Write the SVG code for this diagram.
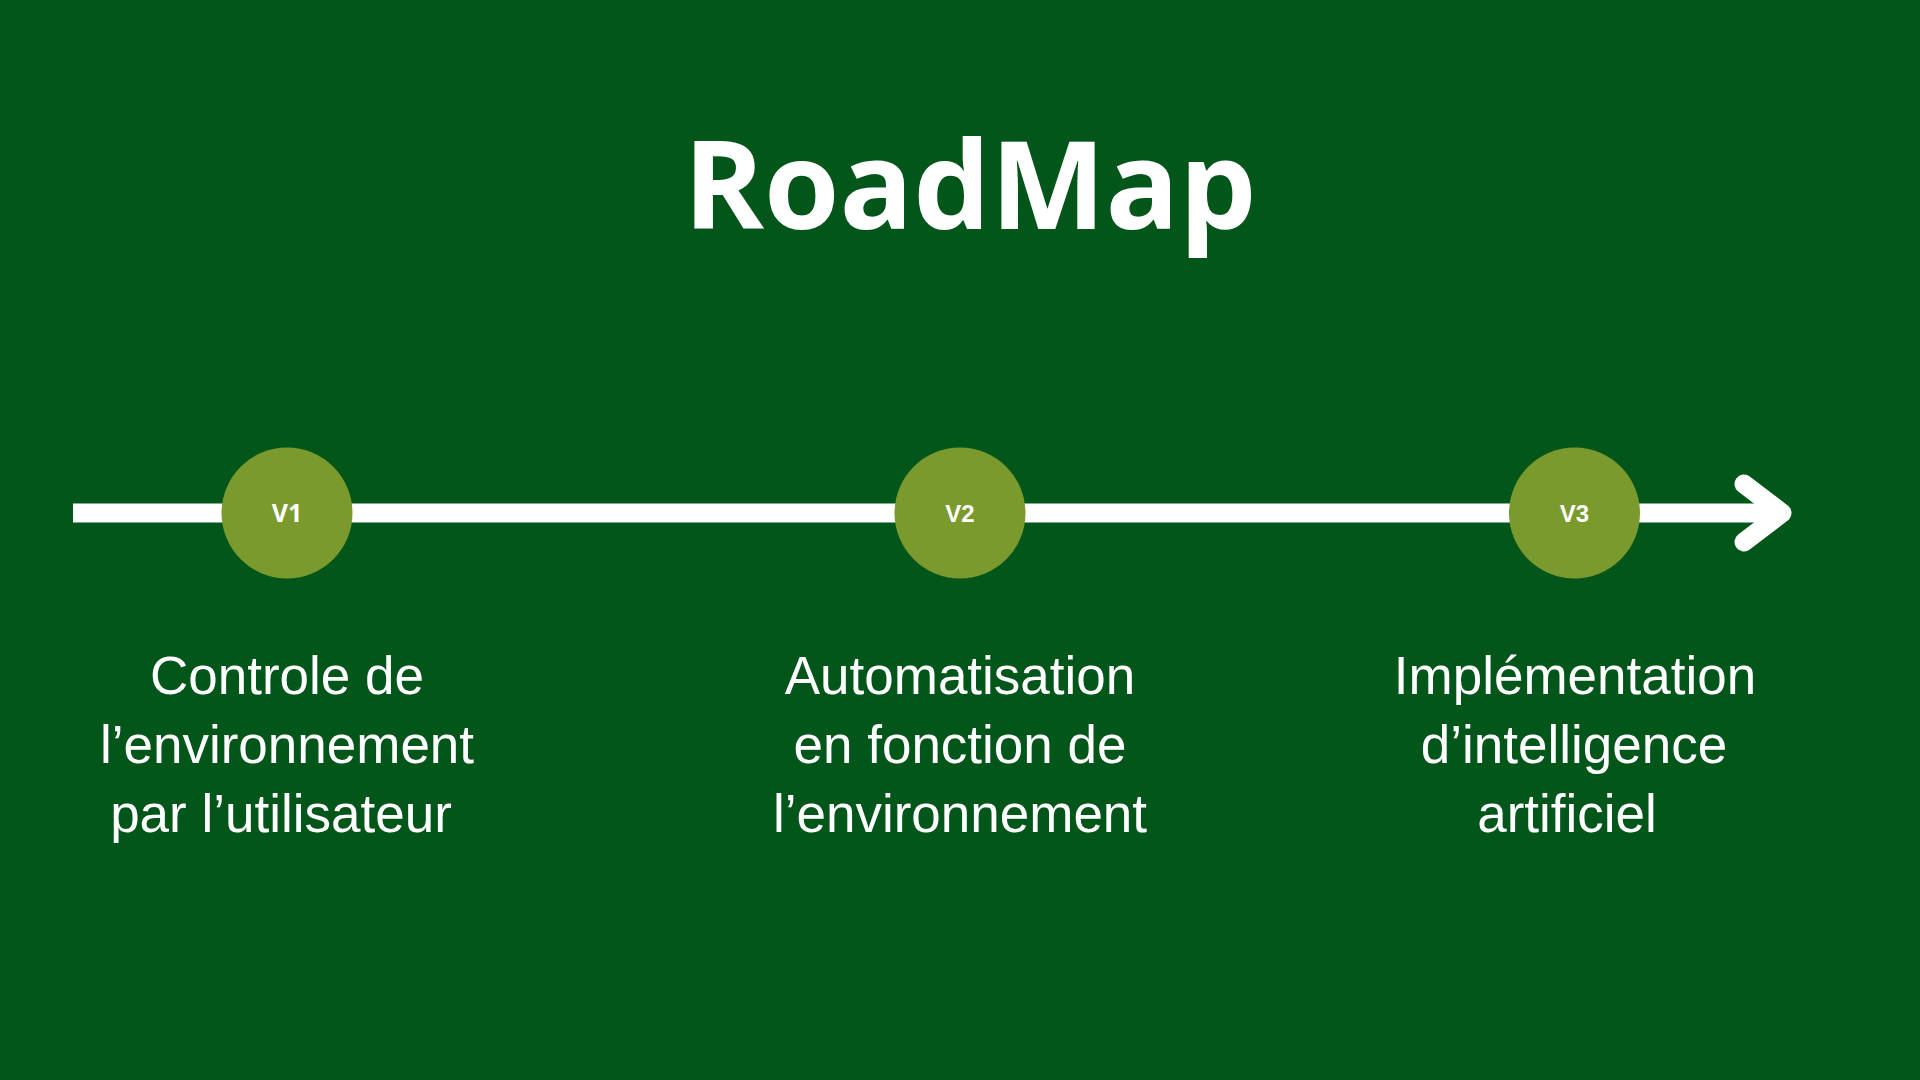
<svg xmlns="http://www.w3.org/2000/svg" width="1920" height="1080" viewBox="0 0 1920 1080">
  <style>
    .title { font-family: "Open Sans", "DejaVu Sans", sans-serif; font-weight: 700; font-size: 122px; fill: #ffffff; }
    .node { fill: #7b9a2e; }
    .vlab { font-family: "Liberation Sans", Arial, sans-serif; font-weight: 700; font-size: 24px; fill: #ffffff; text-anchor: middle; }
    .vlab1 { font-family: "Open Sans", "Liberation Sans", sans-serif; font-weight: 700; font-size: 25px; fill: #ffffff; text-anchor: middle; }
    .desc { font-family: "Liberation Sans", Arial, sans-serif; font-size: 53px; fill: #ffffff; text-anchor: middle; }
    .axis { stroke: #ffffff; stroke-width: 19; fill: none; }
  </style>
  <rect x="0" y="0" width="1920" height="1080" fill="#03561a"/>
  <text class="title" x="970" y="229" text-anchor="middle">RoadMap</text>

  <g id="connectors">
    <line class="axis" x1="73" y1="513" x2="1782" y2="513"/>
    <polyline class="axis" points="1744,484 1782,513 1744,542" stroke-linecap="round" stroke-linejoin="round"/>
  </g>

  <g id="v1">
    <circle class="node" cx="287" cy="513" r="65.5"/>
    <text class="vlab1" x="287" y="522">V1</text>
    <text class="desc" x="287" y="694">Controle de</text>
    <text class="desc" x="287" y="763">l’environnement</text>
    <text class="desc" x="281" y="832">par l’utilisateur</text>
  </g>

  <g id="v2">
    <circle class="node" cx="960" cy="513" r="65.5"/>
    <text class="vlab" x="960" y="522">V2</text>
    <text class="desc" x="960" y="694">Automatisation</text>
    <text class="desc" x="960" y="763">en fonction de</text>
    <text class="desc" x="960" y="832">l’environnement</text>
  </g>

  <g id="v3">
    <circle class="node" cx="1574.5" cy="513" r="65.5"/>
    <text class="vlab" x="1574.5" y="522">V3</text>
    <text class="desc" x="1575" y="694">Implémentation</text>
    <text class="desc" x="1574" y="763">d’intelligence</text>
    <text class="desc" x="1567" y="832">artificiel</text>
  </g>
</svg>
